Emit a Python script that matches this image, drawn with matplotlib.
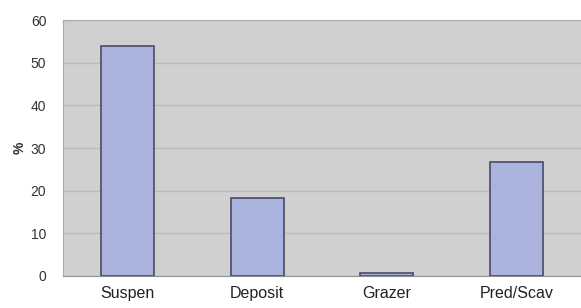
import matplotlib.pyplot as plt

categories = ['Suspen', 'Deposit', 'Grazer', 'Pred/Scav']
values = [54, 18.3, 0.7, 26.8]
yticks = [0, 10, 20, 30, 40, 50, 60]

plt.rcParams['font.family'] = ['Liberation Sans', 'DejaVu Sans']

fig = plt.figure(figsize=(5.81, 3.08), dpi=100)
ax = fig.add_axes([0.1084, 0.1039, 0.8916, 0.8311])
ax.set_facecolor('#d0d0d0')

ax.bar(range(len(categories)), values, width=0.41, color='#a9b3dd',
       edgecolor='#4a4a66', linewidth=1.2, zorder=3)

ax.set_xlim(-0.5, len(categories) - 0.5)
ax.set_ylim(0, 60)
ax.set_yticks(yticks)
ax.set_xticks(range(len(categories)))
ax.set_xticklabels(categories, fontsize=11.5, color='#222222')
ax.tick_params(axis='y', labelsize=10, colors='#333333', length=0, pad=12)
ax.tick_params(axis='x', length=0, pad=7)
ax.grid(axis='y', color='#bababa', linewidth=1.0, zorder=1)
ax.set_ylabel('%', fontsize=10, fontweight='bold', color='#333333', labelpad=3)

for side in ['top', 'left']:
    ax.spines[side].set_color('#a8a8a8')
ax.spines['bottom'].set_color('#909090')
ax.spines['right'].set_visible(False)

fig.savefig('out.png', dpi=100)
